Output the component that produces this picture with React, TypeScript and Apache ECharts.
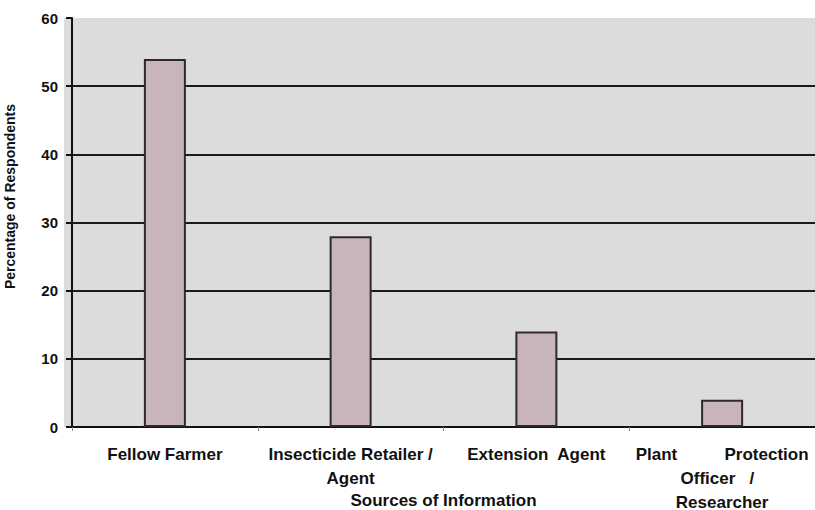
import React, { useEffect, useRef } from "react";
import * as echarts from "echarts";

const categories = [
  "Fellow Farmer",
  "Insecticide Retailer /\nAgent",
  "Extension  Agent",
  "Plant          Protection\nOfficer   /  \nResearcher",
];
const values = [54, 28, 14, 4];
const yTicks = { min: 0, max: 60, interval: 10 };

const FONT = "'Liberation Sans', Arial, sans-serif";

export default function App() {
  const ref = useRef<HTMLDivElement>(null);
  useEffect(() => {
    if (!ref.current) return;
    const chart = echarts.init(ref.current, undefined, { renderer: "svg" });
    chart.setOption({
      animation: false,
      backgroundColor: "#ffffff",
      graphic: [
        {
          type: "rect",
          silent: true,
          z: -10,
          shape: { x: 64, y: 18, width: 8, height: 409 },
          style: { fill: "#dcdcdc" },
        },
      ],
      grid: {
        left: 72,
        right: 0,
        top: 18,
        bottom: 83,
        containLabel: false,
        outerBoundsMode: "none",
        show: true,
        backgroundColor: "#dcdcdc",
        borderWidth: 0,
      },
      xAxis: {
        type: "category",
        data: categories,
        name: "Sources of Information",
        nameLocation: "middle",
        nameGap: 64,
        nameMoveOverlap: false,
        nameTextStyle: {
          fontFamily: FONT,
          fontWeight: "bold",
          fontSize: 17,
          lineHeight: 18,
          color: "#111",
        },
        axisLine: { lineStyle: { color: "#111", width: 2 } },
        axisTick: { show: true, length: 4, lineStyle: { color: "#888", width: 1 } },
        axisLabel: {
          interval: 0,
          margin: 15,
          fontFamily: FONT,
          fontWeight: "bold",
          fontSize: 17,
          lineHeight: 24,
          color: "#111",
          align: "center",
        },
        splitLine: { show: false },
      },
      yAxis: {
        type: "value",
        min: yTicks.min,
        max: yTicks.max,
        interval: yTicks.interval,
        name: "Percentage of Respondents",
        nameLocation: "middle",
        nameGap: 55,
        nameMoveOverlap: false,
        nameTextStyle: {
          fontFamily: FONT,
          fontWeight: "bold",
          fontSize: 14,
          color: "#111",
          padding: [0, 0, 0, 52],
        },
        axisLine: { show: true, lineStyle: { color: "#111", width: 2 } },
        axisTick: { show: true, length: 6, lineStyle: { color: "#111", width: 2 } },
        axisLabel: {
          margin: 14,
          fontFamily: FONT,
          fontWeight: "bold",
          fontSize: 15,
          color: "#111",
        },
        splitLine: {
          show: true,
          showMaxLine: false,
          lineStyle: { color: "#1a1a1a", width: 2 },
        },
      },
      series: [
        {
          type: "bar",
          data: values,
          barWidth: 42,
          itemStyle: {
            color: "#c8b5bc",
            borderColor: "#2e2a2b",
            borderWidth: 2,
          },
        },
      ],
    });
    return () => chart.dispose();
  }, []);
  return <div ref={ref} style={{ width: 815, height: 510, position: "absolute", left: 0, top: 0 }} />;
}
